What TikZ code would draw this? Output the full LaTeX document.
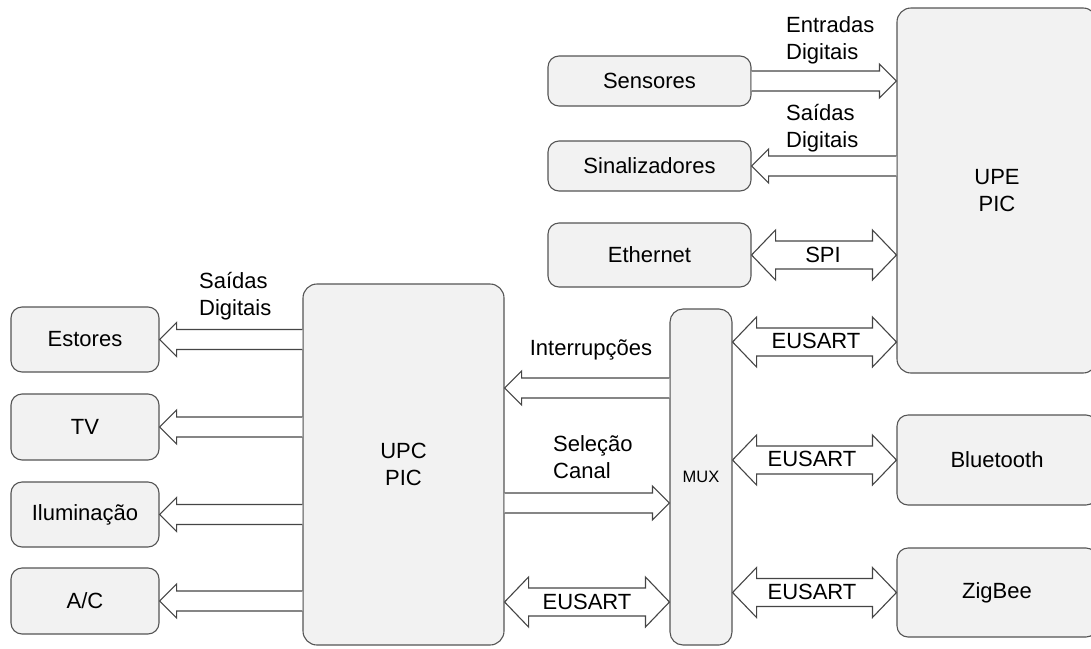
\documentclass[tikz,border=0pt]{standalone}
\usepackage{fontspec}
\setmainfont{Liberation Sans}
\usetikzlibrary{calc}

\definecolor{boxfill}{HTML}{F2F2F2}
\definecolor{boxline}{HTML}{555555}
\definecolor{arrline}{HTML}{454545}

\tikzset{
  txt/.style={font=\fontsize{22}{27}\selectfont, text=black},
  unit/.style={txt, draw=boxline, fill=boxfill, line width=1.1pt,
    rounded corners=11pt, inner sep=0pt, align=center},
  blk/.style={draw=arrline, fill=white, line width=1.1pt, line join=miter},
  lbl/.style={txt, inner sep=0pt, align=left},
}

% one-way block arrow: from #1 to the tip at #2 (horizontal)
\newcommand\onearrow[2]{%
  \draw[blk] let \p1=(#1), \p2=(#2), \n1={sign(\x2-\x1)} in
    (\x1,\y1+10pt) -- (\x2-\n1*17pt,\y1+10pt) -- (\x2-\n1*17pt,\y1+17pt)
    -- (\x2,\y1) -- (\x2-\n1*17pt,\y1-17pt) -- (\x2-\n1*17pt,\y1-10pt)
    -- (\x1,\y1-10pt);}
% two-way block arrow between #1 and #2 (horizontal)
\newcommand\twoarrow[2]{%
  \draw[blk] let \p1=(#1), \p2=(#2), \n1={sign(\x2-\x1)} in
    (\x1,\y1) -- (\x1+\n1*24pt,\y1+25pt) -- (\x1+\n1*24pt,\y1+14pt)
    -- (\x2-\n1*24pt,\y1+14pt) -- (\x2-\n1*24pt,\y1+25pt) -- (\x2,\y1)
    -- (\x2-\n1*24pt,\y1-25pt) -- (\x2-\n1*24pt,\y1-14pt)
    -- (\x1+\n1*24pt,\y1-14pt) -- (\x1+\n1*24pt,\y1-25pt) -- cycle;}

\begin{document}
\begin{tikzpicture}[x=1pt, y=-1pt]
\useasboundingbox (0,0) rectangle (1091,648);

% units
\node[unit, minimum width=203pt, minimum height=50pt] (sens)  at (649.5,81)  {Sensores};
\node[unit, minimum width=203pt, minimum height=50pt] (sinal) at (649.5,166) {Sinalizadores};
\node[unit, minimum width=203pt, minimum height=64pt] (eth)   at (649.5,255) {Ethernet};
\node[unit, minimum width=200pt, minimum height=365pt, rounded corners=14pt] (upe) at (997,190.5) {UPE\\PIC};
\node[unit, minimum width=62pt, minimum height=336pt, rounded corners=13pt,
      font=\fontsize{16.5}{20}\selectfont] (mux) at (701,477) {MUX};
\node[unit, minimum width=201pt, minimum height=361pt, rounded corners=14pt] (upc) at (403.5,464.5) {UPC\\PIC};
\node[unit, minimum width=148pt, minimum height=65pt] (est) at (85,339.5) {Estores};
\node[unit, minimum width=148pt, minimum height=66pt] (tv)  at (85,427)   {TV};
\node[unit, minimum width=148pt, minimum height=65pt] (ilu) at (85,514.5) {Iluminação};
\node[unit, minimum width=148pt, minimum height=66pt] (ac)  at (85,601)   {A/C};
\node[unit, minimum width=200pt, minimum height=90pt] (bt)  at (997,460)  {Bluetooth};
\node[unit, minimum width=200pt, minimum height=89pt] (zb)  at (997,592.5) {ZigBee};

% buses around the UPE
\onearrow{sens.east}{upe.west |- sens.east}
\onearrow{upe.west |- sinal.east}{sinal.east}
\twoarrow{eth.east}{upe.west |- eth.east}
\twoarrow{mux.east |- 0,342}{upe.west |- 0,342}

% buses between UPC and MUX
\onearrow{mux.west |- 0,388}{upc.east |- 0,388}
\onearrow{upc.east |- 0,503}{mux.west |- 0,503}
\twoarrow{upc.east |- 0,602}{mux.west |- 0,602}

% radio modules
\twoarrow{mux.east |- bt.west}{bt.west}
\twoarrow{mux.east |- zb.west}{zb.west}

% UPC outputs
\onearrow{upc.west |- est.east}{est.east}
\onearrow{upc.west |- tv.east}{tv.east}
\onearrow{upc.west |- ilu.east}{ilu.east}
\onearrow{upc.west |- ac.east}{ac.east}

% labels
\node[lbl, anchor=west] (lentr) at (786,40)  {Entradas\\Digitais};
\node[lbl, anchor=west] (lsai1) at (786,128) {Saídas\\Digitais};
\node[lbl] (lspi)  at (823,255) {SPI};
\node[lbl] (leus1) at (816,341) {EUSART};
\node[lbl] (lint)  at (591,350) {Interrupções};
\node[lbl, anchor=west] (lsel) at (553,457) {Seleção\\Canal};
\node[lbl] (leus2) at (587,602) {EUSART};
\node[lbl] (leus3) at (812,459) {EUSART};
\node[lbl] (leus4) at (812,592) {EUSART};
\node[lbl, anchor=west] (lsai2) at (199,296) {Saídas\\Digitais};
\end{tikzpicture}
\end{document}
